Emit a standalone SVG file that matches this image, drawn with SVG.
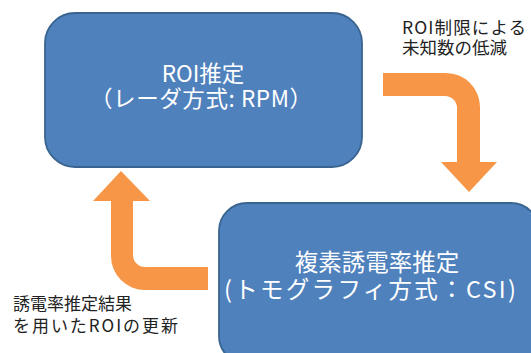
<svg xmlns="http://www.w3.org/2000/svg" width="531" height="353" viewBox="0 0 531 353">
<style>
.box{fill:#4F81BD;stroke:#3A6490;stroke-width:1.8}
.bt{fill:#FFFFFF;font-family:"Noto Sans CJK JP","Noto Sans",sans-serif;text-anchor:middle}
.lb{fill:#222222;font-family:"Noto Sans CJK JP","Noto Sans",sans-serif}
.arr{fill:#F79646}
</style>
<rect width="531" height="353" fill="#FFFFFF"/>
<g id="connectors">
<path class="arr" d="M383,73 H446 A34,34 0 0 1 480,107 V162 H497 L469,192 L441,162 H457 V108 A12,12 0 0 0 445,96 H383 Z"/>
<path class="arr" d="M208,267 H145 A12,12 0 0 1 133,255 V201 H150 L121,171 L93,201 H111 V256 A34,34 0 0 0 145,290 H208 Z"/>
</g>
<g id="node-roi">
<rect class="box" x="45" y="13" width="317" height="154" rx="30"/>
<text class="bt" x="203" y="82" font-size="22.5">ROI推定</text>
<text class="bt" x="201" y="107" font-size="22.5" textLength="222" lengthAdjust="spacing">（レーダ方式: RPM）</text>
</g>
<g id="node-csi">
<rect class="box" x="219" y="203" width="320" height="161" rx="28"/>
<text class="bt" x="377" y="271" font-size="23.5">複素誘電率推定</text>
<text class="bt" x="370" y="298" font-size="23.5" textLength="292" lengthAdjust="spacing">(トモグラフィ方式：CSI)</text>
</g>
<g id="label-top">
<text class="lb" x="402" y="34" font-size="17.5" textLength="124" lengthAdjust="spacing">ROI制限による</text>
<text class="lb" x="402" y="54" font-size="17.5">未知数の低減</text>
</g>
<g id="label-bottom">
<text class="lb" x="13" y="310" font-size="17">誘電率推定結果</text>
<text class="lb" x="13" y="332" font-size="17" textLength="165" lengthAdjust="spacing">を用いたROIの更新</text>
</g>
</svg>
